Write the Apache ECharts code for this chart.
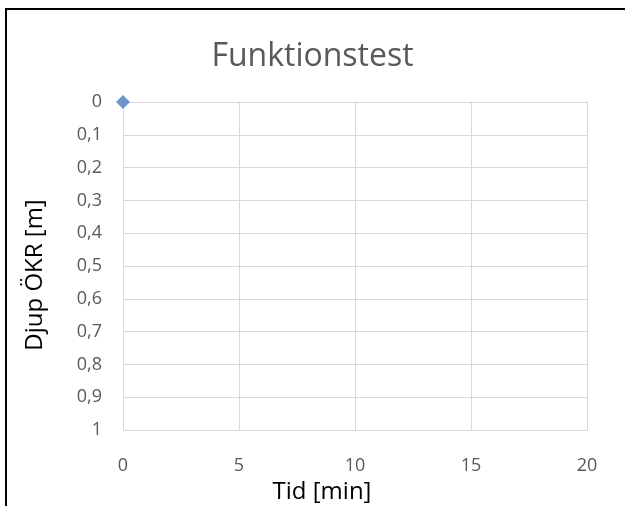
<!DOCTYPE html>
<html>
<head>
<meta charset="utf-8">
<script src="https://cdn.jsdelivr.net/npm/echarts@6/dist/echarts.min.js"></script>
<style>
html,body{margin:0;padding:0;background:#fff;}
#chart{width:625px;height:506px;}
</style>
</head>
<body>
<div id="chart"></div>
<script>
var chartTitle = 'Funktionstest';
var xAxisTitle = 'Tid [min]';
var yAxisTitle = 'Djup ÖKR [m]';
var seriesTime = [0];
var seriesDepth = [0];
var xTicks = {min: 0, max: 20, step: 5};
var yTicks = {min: 0, max: 1, step: 0.1};

var points = seriesTime.map(function (t, i) { return [t, seriesDepth[i]]; });
var font = "'Open Sans', 'Noto Sans', sans-serif";

var chart = echarts.init(document.getElementById('chart'));
chart.setOption({
  animation: false,
  title: {
    text: chartTitle,
    left: 'center',
    top: 36,
    textStyle: {fontFamily: font, fontSize: 32, fontWeight: 'normal', color: '#595959'}
  },
  grid: {left: 123, right: 38, top: 102, bottom: 76, containLabel: false, outerBoundsMode: 'none'},
  xAxis: {
    type: 'value',
    min: xTicks.min, max: xTicks.max, interval: xTicks.step,
    name: xAxisTitle,
    nameLocation: 'middle',
    nameGap: 46,
    nameTextStyle: {fontFamily: font, fontSize: 24, color: '#000', padding: [0, 66, 0, 0]},
    axisLine: {show: false, onZero: false},
    axisTick: {show: false},
    axisLabel: {fontFamily: font, fontSize: 18, color: '#595959', margin: 27},
    splitLine: {show: true, lineStyle: {color: '#d9d9d9', width: 1}}
  },
  yAxis: {
    type: 'value',
    inverse: true,
    min: yTicks.min, max: yTicks.max, interval: yTicks.step,
    name: yAxisTitle,
    nameLocation: 'middle',
    nameGap: 76,
    nameRotate: 90,
    nameTextStyle: {fontFamily: font, fontSize: 24, color: '#000', padding: [0, 18, 0, 0]},
    axisLine: {show: true, onZero: false, lineStyle: {color: '#d9d9d9', width: 1}},
    axisTick: {show: false},
    axisLabel: {
      fontFamily: font, fontSize: 18, color: '#595959', margin: 21,
      formatter: function (v) { return String(Math.round(v * 10) / 10).replace('.', ','); }
    },
    splitLine: {show: true, lineStyle: {color: '#d9d9d9', width: 1}}
  },
  graphic: [{
    type: 'rect',
    silent: true,
    shape: {x: 6, y: 9, width: 700, height: 600},
    style: {fill: 'none', stroke: '#000', lineWidth: 2}
  }],
  series: [{
    type: 'scatter',
    data: points,
    symbol: 'diamond',
    symbolSize: 14,
    itemStyle: {color: '#4a7ebb'}
  }]
});
</script>
</body>
</html>
